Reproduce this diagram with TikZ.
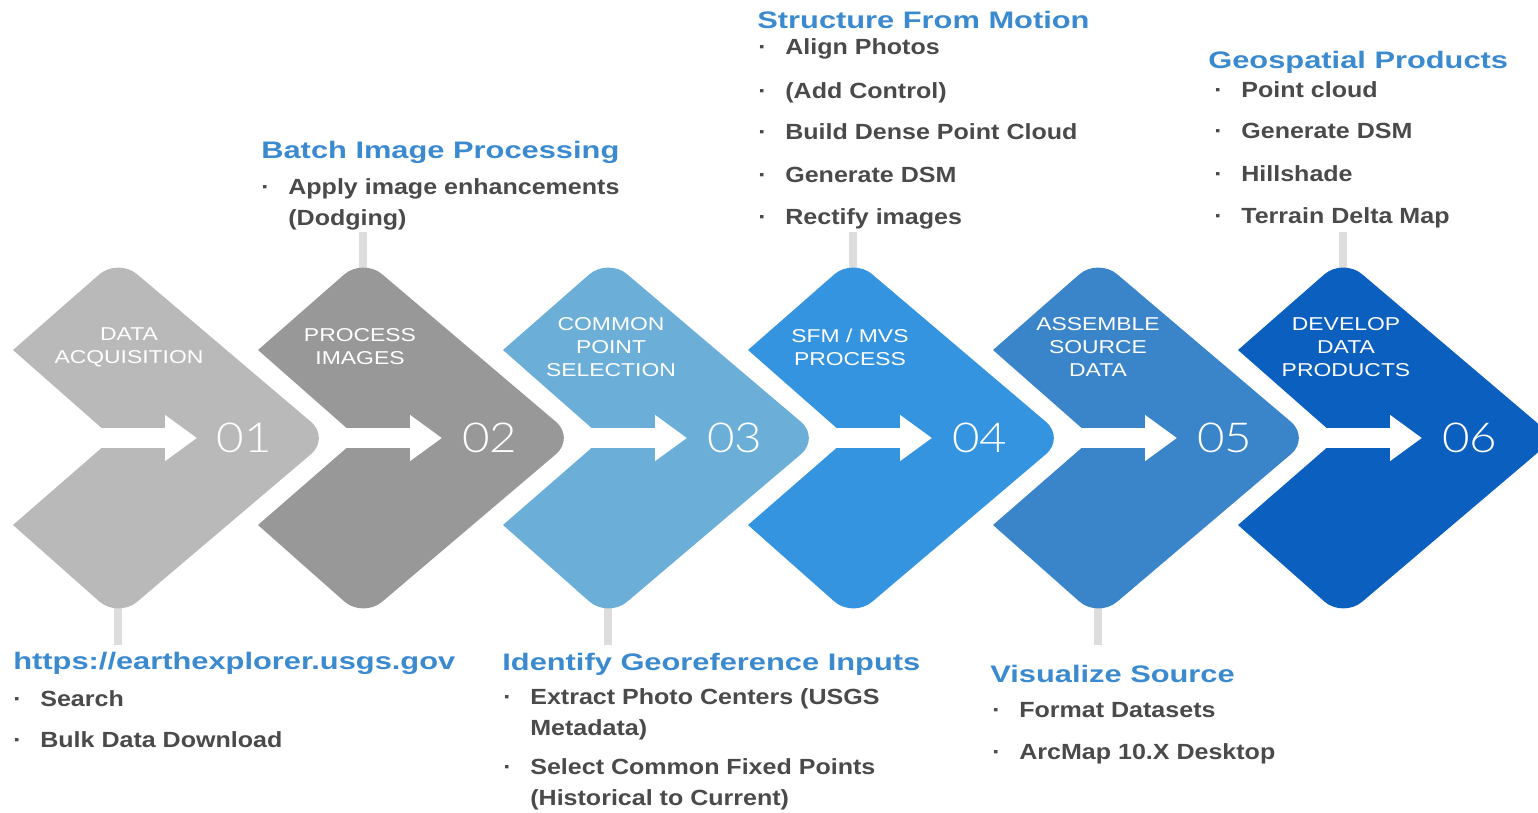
\documentclass[tikz,border=0pt]{standalone}
\usepackage{fontspec}
\setmainfont{Liberation Sans}
\newfontfamily\headfont{Liberation Sans}[FakeStretch=1.29]
\newfontfamily\itemfont{Liberation Sans}[FakeStretch=1.14]
\newfontfamily\chevfont{Liberation Sans}[FakeStretch=1.23]
\newfontfamily\numfont{Lato Light}[FakeStretch=1.15]
\usepackage{tikz}
\usetikzlibrary{arrows.meta, backgrounds}

\definecolor{acqgray}{HTML}{B9B9B9}
\definecolor{procgray}{HTML}{989898}
\definecolor{pointblue}{HTML}{6BAFD9}
\definecolor{sfmblue}{HTML}{3594E0}
\definecolor{asmblue}{HTML}{3A84CA}
\definecolor{devblue}{HTML}{0B5FBF}
\definecolor{headblue}{HTML}{3B8AD0}
\definecolor{itemgray}{HTML}{4A4A4A}
\definecolor{stemgray}{HTML}{DDDDDD}

\newcommand{\itemdot}{\makebox[0.54cm][l]{\textperiodcentered}}

\tikzset{
  chevron/.pic={
    \path[pic actions] (0,525) -- (100,438) -- (0,350)
      [rounded corners=0.5cm] -- (105,258) -- (317,438) -- (105,618)
      [sharp corners] -- cycle;
    \coordinate (-notch) at (100,438);
    \coordinate (-up) at (105,300);
    \coordinate (-down) at (105,576);
  }
}

\begin{document}
\begin{tikzpicture}[x=0.02cm, y=-0.02cm,
  head/.style={anchor=base west, inner sep=0, text=headblue, font=\headfont\bfseries\fontsize{13.6}{17}\selectfont},
  item/.style={anchor=base west, inner sep=0, text=itemgray, align=left, font=\itemfont\bfseries\fontsize{12.5}{17.1}\selectfont},
  lbl/.style={inner sep=0, text=white, align=center, font=\chevfont\fontsize{10.6}{13.1}\selectfont},
  num/.style={anchor=west, inner sep=0, outer sep=0.4cm, text=white, font=\numfont\fontsize{23.5}{23.5}\selectfont},
  flow/.style={white, line width=0.4cm, shorten <=-0.26cm, -{Triangle[length=0.64cm, width=0.88cm]}},
  stem/.style={stemgray, line width=0.16cm}]

  \useasboundingbox (0,0) rectangle (1538,812);

  % Chevrons
  \pic[fill=acqgray] (ch1) at (13,0) {chevron};
  \pic[fill=procgray] (ch2) at (258,0) {chevron};
  \pic[fill=pointblue] (ch3) at (503,0) {chevron};
  \pic[fill=sfmblue] (ch4) at (748,0) {chevron};
  \pic[fill=asmblue] (ch5) at (993,0) {chevron};
  \pic[fill=devblue] (ch6) at (1238,0) {chevron};

  \node[lbl] (l1) at (129,347) {DATA\\ACQUISITION};
  \node[lbl] (l2) at (360,347) {PROCESS\\IMAGES};
  \node[lbl] (l3) at (611,347) {COMMON\\POINT\\SELECTION};
  \node[lbl] (l4) at (850,347) {SFM / MVS\\PROCESS};
  \node[lbl] (l5) at (1098,347) {ASSEMBLE\\SOURCE\\DATA};
  \node[lbl] (l6) at (1346,347) {DEVELOP\\DATA\\PRODUCTS};

  \node[num] (n1) at (197,438) {01};
  \node[num] (n2) at (442,438) {02};
  \node[num] (n3) at (687,438) {03};
  \node[num] (n4) at (932,438) {04};
  \node[num] (n5) at (1177,438) {05};
  \node[num] (n6) at (1422,438) {06};

  \draw[flow] (ch1-notch) -- (n1.west);
  \draw[flow] (ch2-notch) -- (n2.west);
  \draw[flow] (ch3-notch) -- (n3.west);
  \draw[flow] (ch4-notch) -- (n4.west);
  \draw[flow] (ch5-notch) -- (n5.west);
  \draw[flow] (ch6-notch) -- (n6.west);

  % Stems to the notes
  \coordinate (s1) at (118,645);
  \coordinate (s2) at (363,232);
  \coordinate (s3) at (608,645);
  \coordinate (s4) at (853,232);
  \coordinate (s5) at (1098,645);
  \coordinate (s6) at (1343,232);
  \begin{scope}[on background layer]
    \draw[stem] (ch1-down) -- (s1);
    \draw[stem] (ch2-up) -- (s2);
    \draw[stem] (ch3-down) -- (s3);
    \draw[stem] (ch4-up) -- (s4);
    \draw[stem] (ch5-down) -- (s5);
    \draw[stem] (ch6-up) -- (s6);
  \end{scope}

  % Data acquisition notes
  \node[head] (h1) at (13,669) {https://earthexplorer.usgs.gov};
  \node[item] (i11) at (13,706) {\itemdot Search};
  \node[item] (i12) at (13,747) {\itemdot Bulk Data Download};

  % Batch processing notes
  \node[head] (h2) at (261,158) {Batch Image Processing};
  \node[item] (i21) at (261,225) {\itemdot Apply image enhancements\\\hspace*{0.54cm}(Dodging)};

  % Georeference notes
  \node[head] (h3) at (502,670) {Identify Georeference Inputs};
  \node[item] (i31) at (503,735) {\itemdot Extract Photo Centers (USGS\\\hspace*{0.54cm}Metadata)};
  \node[item] (i32) at (503,805) {\itemdot Select Common Fixed Points\\\hspace*{0.54cm}(Historical to Current)};

  % SfM notes
  \node[head] (h4) at (757,28) {Structure From Motion};
  \node[item] (i41) at (758,54) {\itemdot Align Photos};
  \node[item] (i42) at (758,98) {\itemdot (Add Control)};
  \node[item] (i43) at (758,139) {\itemdot Build Dense Point Cloud};
  \node[item] (i44) at (758,182) {\itemdot Generate DSM};
  \node[item] (i45) at (758,224) {\itemdot Rectify images};

  % Visualize notes
  \node[head] (h5) at (990,682) {Visualize Source};
  \node[item] (i51) at (992,717) {\itemdot Format Datasets};
  \node[item] (i52) at (992,759) {\itemdot ArcMap 10.X Desktop};

  % Product notes
  \node[head] (h6) at (1208,68) {Geospatial Products};
  \node[item] (i61) at (1214,97) {\itemdot Point cloud};
  \node[item] (i62) at (1214,138) {\itemdot Generate DSM};
  \node[item] (i63) at (1214,181) {\itemdot Hillshade};
  \node[item] (i64) at (1214,223) {\itemdot Terrain Delta Map};
\end{tikzpicture}
\end{document}
